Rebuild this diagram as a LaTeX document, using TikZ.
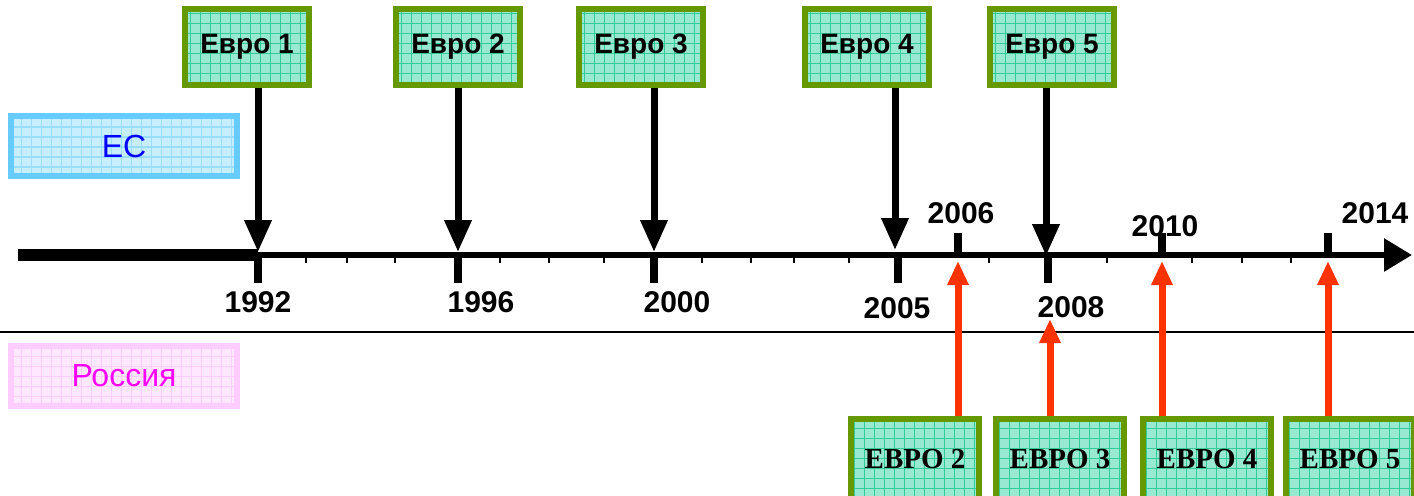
\documentclass[tikz,border=0pt]{standalone}
\usepackage{fontspec}
\setmainfont{Liberation Sans}
\newfontfamily\timesfont{Liberation Serif}
\usetikzlibrary{arrows.meta, positioning}

\definecolor{evgreen}{HTML}{669900}
\definecolor{evfill}{HTML}{99E8D2}
\definecolor{evgrid}{HTML}{33CC99}
\definecolor{ecblue}{HTML}{66CCFF}
\definecolor{ecfill}{HTML}{C6EEFF}
\definecolor{ecgrid}{HTML}{99DDFF}
\definecolor{ectext}{HTML}{0000FF}
\definecolor{rupink}{HTML}{FFCCFF}
\definecolor{rufill}{HTML}{FFE8FF}
\definecolor{rugrid}{HTML}{FFCCFF}
\definecolor{rutext}{HTML}{FF00FF}
\definecolor{redarrow}{HTML}{FF3300}

\tikzset{
  gridded/.style={path picture={\draw[#1, line width=0.6pt]
      (path picture bounding box.south west) grid[step=5pt]
      (path picture bounding box.north east);}},
  evrobox/.style={draw=evgreen, fill=evfill, gridded=evgrid, line width=3pt,
      minimum width=62pt, minimum height=38pt, inner sep=0pt,
      font=\bfseries\fontsize{14}{14}\selectfont},
  evroru/.style={evrobox, minimum width=64pt, minimum height=40pt,
      font=\timesfont\bfseries\fontsize{14.5}{15}\selectfont},
  band/.style={line width=3pt, minimum width=113pt, minimum height=30pt,
      inner sep=0pt, font=\fontsize{16}{16}\selectfont},
  year/.style={font=\bfseries\fontsize{15}{15}\selectfont, inner sep=0pt},
  blackarr/.style={color=black, line width=3.5pt, -{Triangle[width=13pt,length=16pt]}},
  redarr/.style={color=redarrow, line width=3.5pt, -{Triangle[width=10pt,length=12pt]}},
  majortick/.style={line width=4pt},
  minortick/.style={line width=1pt}
}

\begin{document}
\begin{tikzpicture}[x=0.5pt, y=-0.5pt]
        \useasboundingbox (0,0) rectangle (1414,495);
        % bands
        \node[band, draw=ecblue, fill=ecfill, gridded=ecgrid, text=ectext] (ec) at (124,146) {ЕС};
        \node[band, draw=rupink, fill=rufill, gridded=rugrid, text=rutext] (ru) at (124,376) {Россия};
        \coordinate (sepl) at (0,332);
        \coordinate (sepr) at (1414,332);
        \draw[line width=1pt] (sepl) -- (sepr);

        % time axis
        \coordinate (axl) at (18,255);
        \coordinate (ax0) at (258,255);
        \coordinate (axr) at (1412,255);
        \draw[line width=6pt] (axl) -- (ax0);
        \draw[line width=3pt, -{Triangle[width=16pt,length=14pt]}] (ax0) -- (axr);
        \foreach \x in {306,347,395,500,549,604,702,751,794,849,989,1107,1192,1242,1291}
            \draw[minortick] (\x,256) -- (\x,263);
        \foreach \x/\yr in {258/1992,458/1996,654/2000,898/2005,1048/2008}
            \draw[majortick] (\x,255) -- (\x,283);
        \foreach \x/\yr in {958/2006,1162/2010,1328/2014}
            \draw[majortick] (\x,233) -- (\x,255);

        % years
        \node[year] (l1992) at (258,302) {1992};
        \node[year] (l1996) at (481,302) {1996};
        \node[year] (l2000) at (677,302) {2000};
        \node[year] (l2005) at (897,308) {2005};
        \node[year] (l2008) at (1071,307) {2008};
        \node[year] (l2006) at (961,213) {2006};
        \node[year] (l2010) at (1165,226) {2010};
        \node[year] (l2014) at (1375,213) {2014};

        % EU standards
        \node[evrobox] (e1) at (247,47) {Евро 1};
        \node[evrobox] (e2) at (458,47) {Евро 2};
        \node[evrobox] (e3) at (641,47) {Евро 3};
        \node[evrobox] (e4) at (867,47) {Евро 4};
        \node[evrobox] (e5) at (1052,47) {Евро 5};
        \coordinate (a1992) at (258,252);
        \coordinate (a1996) at (458,252);
        \coordinate (a2000) at (654,252);
        \coordinate (a2005) at (895,250);
        \coordinate (a2008) at (1046,256);
        \path[blackarr]
        (e1.south -| a1992) edge (a1992)
        (e2.south -| a1996) edge (a1996)
        (e3.south -| a2000) edge (a2000)
        (e4.south -| a2005) edge (a2005)
        (e5.south -| a2008) edge (a2008)
        ;

        % Russian standards
        \node[evroru] (r2) at (915,459) {ЕВРО 2};
        \node[evroru] (r3) at (1060,459) {ЕВРО 3};
        \node[evroru] (r4) at (1207,459) {ЕВРО 4};
        \node[evroru] (r5) at (1350,459) {ЕВРО 5};
        \coordinate (p2006) at (958,261);
        \coordinate (p2008) at (1050,319);
        \coordinate (p2010) at (1162,261);
        \coordinate (p2014) at (1328,261);
        \path[redarr]
        (r2.north -| p2006) edge (p2006)
        (r3.north -| p2008) edge (p2008)
        (r4.north -| p2010) edge (p2010)
        (r5.north -| p2014) edge (p2014)
        ;
    \end{tikzpicture}
\end{document}
